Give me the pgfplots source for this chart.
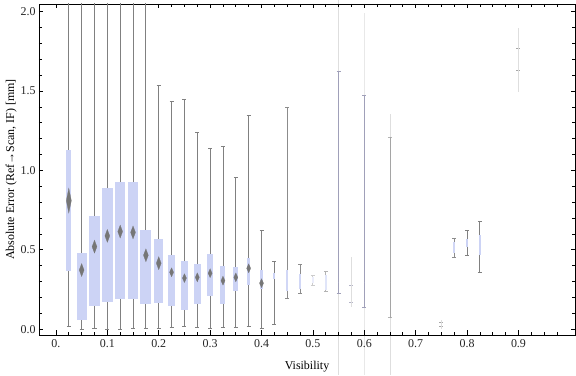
\documentclass[border=0pt]{standalone}
\usepackage{fontspec}
\setmainfont{Liberation Serif}
\usepackage{pgfplots}
\pgfplotsset{compat=1.18}
\usepgfplotslibrary{statistics}
\definecolor{boxblue}{RGB}{204,211,245}
\definecolor{whisk}{RGB}{128,128,128}
\definecolor{diam}{RGB}{118,118,118}
\definecolor{faint}{RGB}{222,222,222}
\definecolor{bluegray}{RGB}{160,160,185}
% #1 pos, #2 lower whisker, #3 q1, #4 median, #5 q3, #6 upper whisker, #7 box width, #8 opacity, #9 whisker colour
\newcommand{\bx}[9]{%
  \addplot[#9, line width=0.9bp, opacity=#8,
    boxplot prepared={draw position=#1, lower whisker=#2, lower quartile=#3,
      median=#4, upper quartile=#5, upper whisker=#6, box extend=#7,
      whisker extend=0.0078}] coordinates {};}
\begin{document}
\begin{tikzpicture}
% faint unclipped guide lines (drawn behind)
\begin{axis}[at={(0,0)}, anchor=south west, scale only axis,
  width=536bp, height=331bp, xmin=-0.033, xmax=1.01, ymin=-0.036, ymax=2.048,
  hide axis, clip=false]
\addplot[faint, line width=0.9bp] coordinates {(0.55,2.07) (0.55,-0.285)};
\addplot[faint!70, line width=0.9bp] coordinates {(0.6,1.99) (0.6,-0.285)};
\addplot[faint, line width=0.9bp] coordinates {(0.65,1.355) (0.65,-0.285)};
\end{axis}
\begin{axis}[name=main, at={(0,0)}, anchor=south west, scale only axis,
  width=536bp, height=331bp,
  xmin=-0.033, xmax=1.01, ymin=-0.036, ymax=2.048,
  axis line style={line width=0.8bp, black},
  tick align=inside, major tick length=4.5bp, minor tick length=3bp,
  every tick/.style={black, line width=0.8bp},
  xtick={0,0.1,0.2,0.3,0.4,0.5,0.6,0.7,0.8,0.9},
  xticklabels={0.,0.1,0.2,0.3,0.4,0.5,0.6,0.7,0.8,0.9},
  minor xtick={0.025,0.05,0.075,0.125,0.15,0.175,0.225,0.25,0.275,0.325,0.35,0.375,0.425,0.45,0.475,0.525,0.55,0.575,0.625,0.65,0.675,0.725,0.75,0.775,0.825,0.85,0.875,0.925,0.95,0.975},
  ytick={0,0.5,1,1.5,2},
  yticklabels={0.0,0.5,1.0,1.5,2.0},
  minor ytick={0.1,0.2,0.3,0.4,0.6,0.7,0.8,0.9,1.1,1.2,1.3,1.4,1.6,1.7,1.8,1.9},
  ticklabel style={font=\fontsize{12}{14}\selectfont, text=black!85},
  xticklabel style={yshift=-1bp},
  xlabel={Visibility},
  ylabel={Absolute Error (Ref→Scan, IF) [mm]},
  label style={font=\fontsize{12}{14}\selectfont},
  xlabel style={at={(axis description cs:0.5,-0.097)}, anchor=center},
  ylabel style={at={(axis description cs:-0.052,0.5)}, anchor=center},
  boxplot/draw direction=y,
  boxplot/every box/.style={fill=boxblue, draw=none},
  boxplot/every median/.style={draw=none},
]
\bx{0.025}{0.016}{0.369}{0.81}{1.129}{2.2}{0.0097}{1}{whisk}
\bx{0.05}{0.0}{0.059}{0.373}{0.482}{2.2}{0.0195}{1}{whisk}
\bx{0.075}{0.008}{0.147}{0.52}{0.715}{2.2}{0.0195}{1}{whisk}
\bx{0.1}{0.0}{0.172}{0.588}{0.892}{2.2}{0.0214}{1}{whisk}
\bx{0.125}{0.0}{0.193}{0.615}{0.928}{2.2}{0.0195}{1}{whisk}
\bx{0.15}{0.005}{0.193}{0.61}{0.928}{2.2}{0.0195}{1}{whisk}
\bx{0.175}{0.005}{0.159}{0.466}{0.625}{2.2}{0.0214}{1}{whisk}
\bx{0.2}{0.005}{0.168}{0.416}{0.569}{1.534}{0.0175}{1}{whisk}
\bx{0.225}{0.01}{0.147}{0.359}{0.468}{1.436}{0.0142}{1}{whisk}
\bx{0.25}{0.016}{0.121}{0.322}{0.43}{1.448}{0.0142}{1}{whisk}
\bx{0.275}{0.01}{0.161}{0.327}{0.411}{1.24}{0.0136}{1}{whisk}
\bx{0.3}{0.008}{0.212}{0.353}{0.474}{1.14}{0.0117}{1}{whisk}
\bx{0.325}{0.014}{0.161}{0.306}{0.399}{1.152}{0.0097}{1}{whisk}
\bx{0.35}{0.014}{0.243}{0.327}{0.39}{0.957}{0.0097}{1}{whisk}
\bx{0.375}{0.02}{0.281}{0.384}{0.447}{1.347}{0.0068}{1}{whisk}
\bx{0.4}{0.006}{0.252}{0.29}{0.373}{0.625}{0.0068}{1}{whisk}
\bx{0.425}{0.033}{0.315}{0.335}{0.353}{0.426}{0.0039}{1}{whisk}
\bx{0.45}{0.195}{0.243}{0.31}{0.373}{1.394}{0.0049}{0.9}{whisk}
\bx{0.475}{0.227}{0.252}{0.30}{0.348}{0.409}{0.0039}{0.9}{whisk}
\bx{0.5}{0.279}{0.29}{0.31}{0.33}{0.338}{0.0049}{0.4}{whisk}
\bx{0.525}{0.237}{0.25}{0.3}{0.34}{0.363}{0.0029}{0.6}{whisk}
\bx{0.55}{0.227}{0.3}{0.3}{0.3}{1.626}{0.0010}{1}{bluegray}
\bx{0.575}{0.17}{0.2}{0.24}{0.26}{0.279}{0.0029}{0.8}{bluegray}
\bx{0.6}{0.138}{0.3}{0.3}{0.3}{1.473}{0.0010}{1}{bluegray}
\bx{0.65}{0.075}{0.3}{0.3}{0.3}{1.209}{0.0010}{0.6}{whisk}
\bx{0.75}{0.017}{0.025}{0.03}{0.035}{0.042}{0.0020}{0.7}{whisk}
\bx{0.775}{0.451}{0.479}{0.51}{0.552}{0.573}{0.0029}{0.9}{whisk}
\bx{0.8}{0.464}{0.52}{0.54}{0.567}{0.621}{0.0039}{1}{whisk}
\bx{0.825}{0.357}{0.468}{0.53}{0.594}{0.678}{0.0039}{1}{whisk}
\bx{0.9}{1.627}{1.65}{1.70}{1.75}{1.77}{0.0029}{0.7}{whisk}
% faint extensions
\addplot[faint, line width=0.9bp] coordinates {(0.575,0.142) (0.575,0.457)};
\addplot[faint, line width=0.9bp] coordinates {(0.9,1.496) (0.9,1.895)};
\addplot[faint, line width=0.9bp] coordinates {(0.75,0.0) (0.75,0.06)};
% diamonds (means)
\addplot[diam, only marks, mark=diamond*, mark size=12.5bp,
  mark options={xscale=0.27, fill=diam, draw=diam, line width=0.2bp}] coordinates {(0.025,0.81)};
\addplot[diam, only marks, mark=diamond*, mark size=6.5bp,
  mark options={xscale=0.5, fill=diam, draw=diam, line width=0.2bp}] coordinates {
  (0.05,0.373) (0.075,0.52) (0.1,0.588) (0.125,0.615) (0.15,0.61) (0.175,0.466) (0.2,0.416)};
\addplot[diam, only marks, mark=diamond*, mark size=4.5bp,
  mark options={xscale=0.6, fill=diam, draw=diam, line width=0.2bp}] coordinates {
  (0.225,0.359) (0.25,0.322) (0.275,0.327) (0.3,0.353) (0.325,0.306) (0.35,0.327) (0.375,0.384) (0.4,0.29)};
\end{axis}
\path ([xshift=-39bp,yshift=-40bp]main.south west) rectangle ([xshift=1bp,yshift=4bp]main.north east);
\end{tikzpicture}
\end{document}
